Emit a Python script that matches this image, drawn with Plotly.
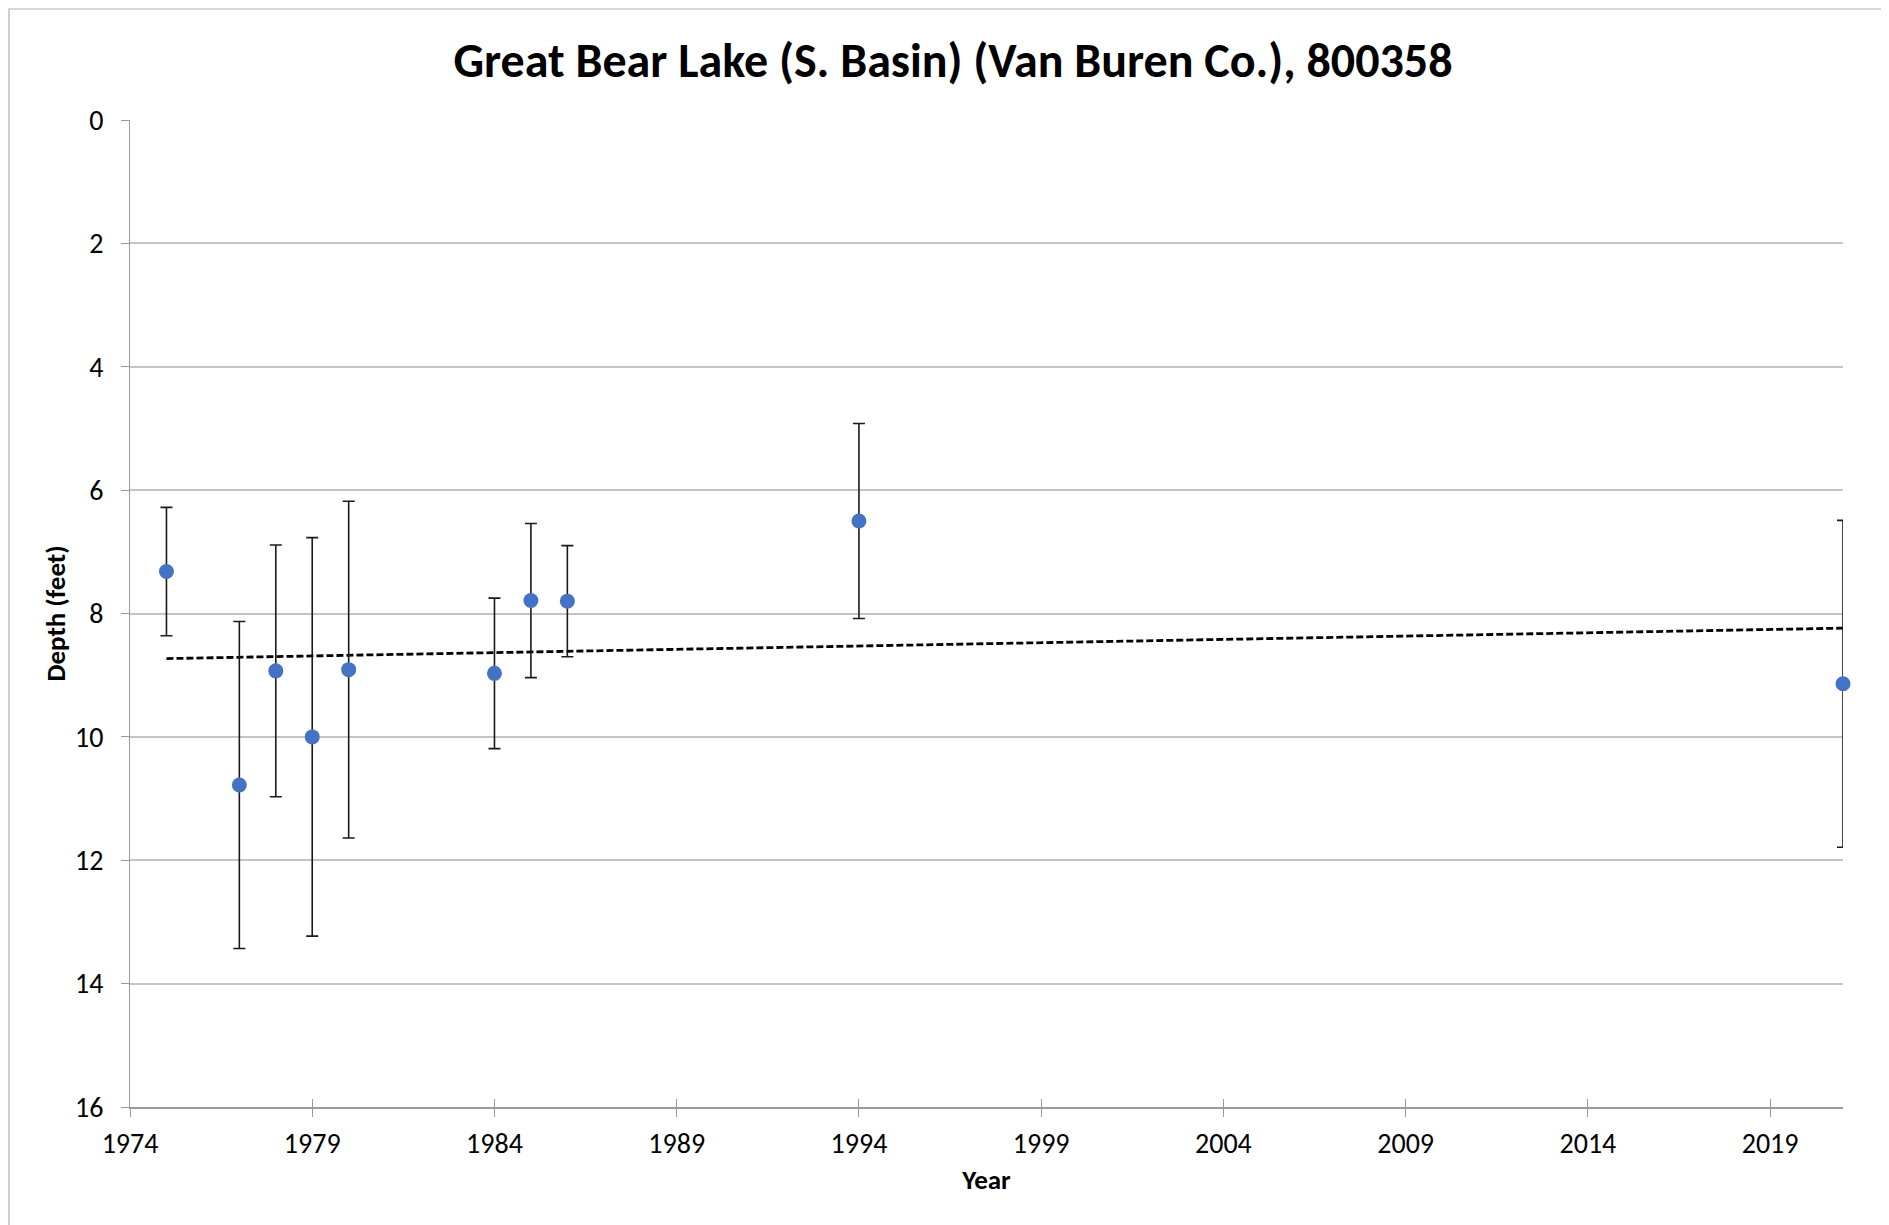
import numpy as np
import plotly.graph_objects as go

# ---- data ----
years = [1975, 1977, 1978, 1979, 1980, 1984, 1985, 1986, 1994, 2021]
depth_ft = [7.32, 10.78, 8.93, 10.00, 8.91, 8.97, 7.79, 7.80, 6.50, 9.14]
depth_err = [1.04, 2.65, 2.04, 3.23, 2.73, 1.22, 1.25, 0.90, 1.58, 2.65]

x_ticks = [1974, 1979, 1984, 1989, 1994, 1999, 2004, 2009, 2014, 2019]
y_ticks = [0, 2, 4, 6, 8, 10, 12, 14, 16]

title_text = "Great Bear Lake (S. Basin) (Van Buren Co.), 800358"

# linear trend (least squares) over the data
slope, intercept = np.polyfit(years, depth_ft, 1)
trend_x = [min(years), max(years)]
trend_y = [slope * v + intercept for v in trend_x]

# page body has an 8px margin; compensate so the plot lands where the reference has it
OFF = 8
W, H = 1889 - OFF, 1225 - OFF
ML, MR, MT, MB = 130 - OFF, 46, 120 - OFF, 118
FONT = "Carlito, Calibri, Lato, sans-serif"
X_RANGE = [1974, 2021]

fig = go.Figure()

fig.add_trace(go.Scatter(
    x=trend_x, y=trend_y, mode="lines",
    line=dict(color="black", width=2.8, dash="7px,3px"),
    hoverinfo="skip", showlegend=False,
))

fig.add_trace(go.Scatter(
    x=years, y=depth_ft, mode="markers",
    marker=dict(color="#4472C4", size=15),
    error_y=dict(type="data", array=depth_err, visible=True,
                 color="#1a1a1a", thickness=1.6, width=6),
    cliponaxis=False, showlegend=False,
))

# empty trace on an overlaid x axis, used only to draw the inner half of the crossing ticks
fig.add_trace(go.Scatter(x=[], y=[], xaxis="x2", yaxis="y", showlegend=False, hoverinfo="skip"))

pw = W - ML - MR
ph = H - MT - MB
fig.add_shape(type="rect", xref="paper", yref="paper",
              x0=(1 - ML) / pw, x1=(W + 10 - ML) / pw,
              y0=-(H + 10 - MT - ph) / ph, y1=1 + (MT - 1) / ph,
              line=dict(color="#b0b0b0", width=1.2), fillcolor="rgba(0,0,0,0)",
              layer="below")

fig.update_layout(
    width=W, height=H,
    margin=dict(l=ML, r=MR, t=MT, b=MB),
    paper_bgcolor="white", plot_bgcolor="white",
    font=dict(family=FONT, color="black", size=28),
    title=dict(text=f"<b>{title_text}</b>", xref="container", x=(953 - OFF) / W,
               xanchor="center", y=1 - (60 - OFF) / H, yanchor="middle",
               font=dict(family=FONT, size=48, color="black")),
    xaxis=dict(
        range=X_RANGE, tickvals=x_ticks, ticktext=[str(v) for v in x_ticks],
        showgrid=False, zeroline=False,
        showline=True, linecolor="#9a9a9a", linewidth=1.5,
        ticks="outside", ticklen=8, tickcolor="#9a9a9a", tickwidth=1,
        ticklabelstandoff=3,
        tickfont=dict(size=28, family=FONT),
        title=dict(text="<b>Year</b>", font=dict(size=27, family=FONT), standoff=10),
    ),
    xaxis2=dict(
        range=X_RANGE, tickvals=x_ticks, overlaying="x", anchor="y", side="bottom",
        showgrid=False, zeroline=False, showline=False, showticklabels=False,
        ticks="inside", ticklen=8, tickcolor="#9a9a9a", tickwidth=1,
    ),
    yaxis=dict(
        range=[16, 0], tickvals=y_ticks, ticktext=[str(v) for v in y_ticks],
        showgrid=True, gridcolor="#c4c4c4", gridwidth=2,
        zeroline=False,
        showline=True, linecolor="#9a9a9a", linewidth=1,
        ticks="outside", ticklen=8, tickcolor="#9a9a9a", tickwidth=1,
        ticklabelstandoff=12,
        tickfont=dict(size=28, family=FONT),
        title=dict(text="<b>Depth (feet)</b>", font=dict(size=27, family=FONT), standoff=1),
    ),
)

fig.write_html("out.html")
